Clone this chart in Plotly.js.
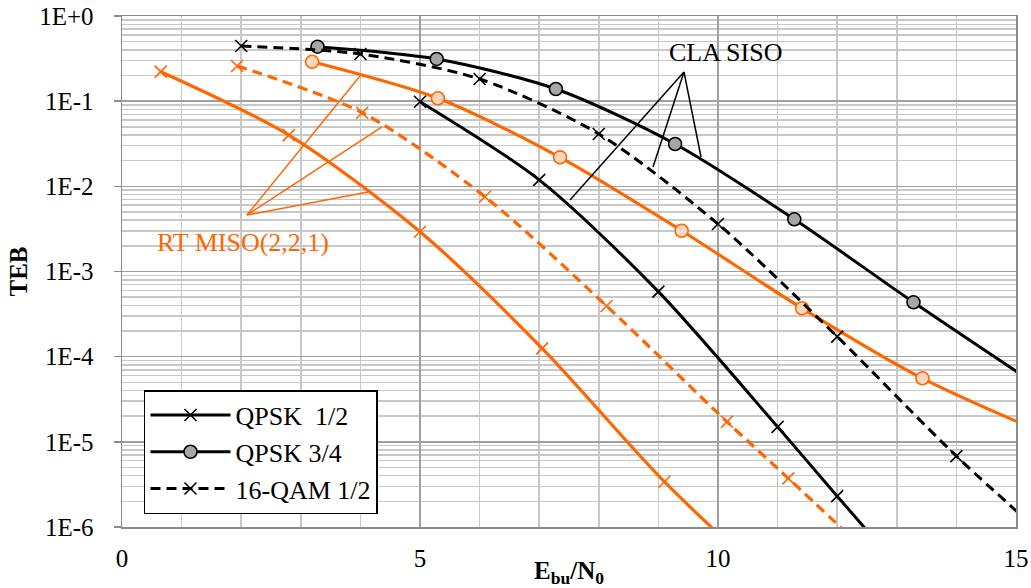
<!DOCTYPE html>
<html>
<head>
<meta charset="utf-8">
<script src="https://cdn.plot.ly/plotly-3.0.1.min.js"></script>
<style>html,body{margin:0;padding:0;background:#fff;}#chart{width:1031px;height:588px;}</style>
</head>
<body>
<div id="chart"></div>
<script>
// ---- Data ----
// CLA SISO (black)
const claQpsk12X = [5, 7, 9, 11, 12, 13];
const claQpsk12Y = [0.0985, 0.0119, 5.8e-4, 1.5e-5, 2.3e-6, 3.6e-7];
const claQpsk34X = [3.28, 5.28, 7.28, 9.28, 11.28, 13.28, 15.28];
const claQpsk34Y = [0.436, 0.313, 0.139, 0.0314, 0.0041, 4.35e-4, 5e-5];
const claQam12X = [2, 4, 6, 8, 10, 12, 14, 16];
const claQam12Y = [0.444, 0.358, 0.182, 0.0412, 0.00361, 1.72e-4, 6.8e-6, 3.7e-7];
// RT MISO(2,2,1) (orange)
const rtQpsk12X = [0.65, 2.8, 5.0, 7.05, 9.1, 11.2];
const rtQpsk12Y = [0.222, 0.040, 0.00293, 1.25e-4, 3.4e-6, 1.4e-7];
const rtQpsk34X = [3.19, 5.3, 7.35, 9.39, 11.41, 13.43, 15.45];
const rtQpsk34Y = [0.29, 0.108, 0.0219, 0.00301, 3.7e-4, 5.57e-5, 1.28e-5];
const rtQam12X = [1.93, 4.03, 6.09, 8.13, 10.15, 11.18, 12.2];
const rtQam12Y = [0.259, 0.0732, 0.00755, 3.94e-4, 1.72e-5, 3.73e-6, 8e-7];

const legendNames = ['QPSK\u00a0\u00a01/2', 'QPSK 3/4', '16-QAM 1/2'];
const yTickVals = [1e-6, 1e-5, 1e-4, 1e-3, 1e-2, 1e-1, 1];
const yTickText = ['1E-6', '1E-5', '1E-4', '1E-3', '1E-2', '1E-1', '1E+0'];
const xTickVals = [0, 5, 10, 15];
const xTickText = ['0', '5', '10', '15'];
const claLabel = 'CLA SISO';
const rtLabel = 'RT MISO(2,2,1)';

// ---- Styles ----
const BLACK = '#000000';
const ORANGE = '#ff6600';
const FONT = 'Liberation Serif, Times New Roman, serif';
const DASH = '10px,6px';

function xMarker(color) {
  return {symbol: 'x-thin', size: 12, color: color, line: {color: color, width: 1.6}};
}

const traces = [
  {x: rtQpsk12X, y: rtQpsk12Y, mode: 'lines+markers', showlegend: false,
   line: {color: ORANGE, width: 3.2, shape: 'spline', smoothing: 0.8}, marker: xMarker(ORANGE)},
  {x: rtQpsk34X, y: rtQpsk34Y, mode: 'lines+markers', showlegend: false,
   line: {color: ORANGE, width: 3.2, shape: 'spline', smoothing: 0.8},
   marker: {symbol: 'circle', size: 13, color: '#fdd6bf', line: {color: ORANGE, width: 1.6}}},
  {x: rtQam12X, y: rtQam12Y, mode: 'lines+markers', showlegend: false,
   line: {color: ORANGE, width: 3.2, dash: DASH, shape: 'spline', smoothing: 0.8}, marker: xMarker(ORANGE)},
  {x: claQpsk12X, y: claQpsk12Y, mode: 'lines+markers', name: legendNames[0], legendgroup: 'a',
   line: {color: BLACK, width: 3, shape: 'spline', smoothing: 0.8}, marker: xMarker(BLACK)},
  {x: claQpsk34X, y: claQpsk34Y, mode: 'lines+markers', name: legendNames[1], legendgroup: 'b',
   line: {color: BLACK, width: 3, shape: 'spline', smoothing: 0.8},
   marker: {symbol: 'circle', size: 13, color: '#a6a6a6', line: {color: BLACK, width: 1.6}}},
  {x: claQam12X, y: claQam12Y, mode: 'lines+markers', name: legendNames[2], legendgroup: 'c',
   line: {color: BLACK, width: 3, dash: DASH, shape: 'spline', smoothing: 0.8}, marker: xMarker(BLACK)}
];

// leader lines (paper coordinates)
function seg(x0, y0, x1, y1, color) {
  return {type: 'line', xref: 'paper', yref: 'paper', x0: x0, y0: y0, x1: x1, y1: y1,
          line: {color: color, width: 1.5}, layer: 'above'};
}
const shapes = [
  seg(0.6286, 0.8904, 0.5011, 0.6399, BLACK),
  seg(0.6286, 0.8904, 0.5940, 0.7045, BLACK),
  seg(0.6286, 0.8904, 0.6477, 0.7241, BLACK),
  seg(0.1398, 0.6106, 0.2662, 0.8826, ORANGE),
  seg(0.1398, 0.6106, 0.2908, 0.7828, ORANGE),
  seg(0.1398, 0.6106, 0.2752, 0.6556, ORANGE)
];

const layout = {
  width: 1031, height: 588,
  margin: {l: 122, r: 15, t: 16, b: 61},
  paper_bgcolor: '#ffffff', plot_bgcolor: '#ffffff',
  font: {family: FONT, size: 25, color: BLACK},
  showlegend: true,
  legend: {x: 0.0246, y: 0.268, xanchor: 'left', yanchor: 'top',
           bgcolor: '#ffffff', bordercolor: BLACK, borderwidth: 1.5,
           font: {family: FONT, size: 26, color: BLACK},
           itemwidth: 80, tracegroupgap: 0, traceorder: 'grouped'},
  xaxis: {range: [0, 15], tickmode: 'array', tickvals: xTickVals, ticktext: xTickText,
          showgrid: true, gridcolor: '#a0a0a0', gridwidth: 1.5,
          minor: {dtick: 1, showgrid: true, gridcolor: '#c8c8c8', gridwidth: 1.5},
          showline: true, linecolor: '#8c8c8c', linewidth: 1.5, mirror: true,
          ticks: '', ticklabelstandoff: 8, zeroline: false,
          tickfont: {family: FONT, size: 25, color: BLACK},
          title: {text: '<b>E<sub>bu</sub>/N<sub>0</sub></b>', font: {family: FONT, size: 25, color: BLACK}, standoff: 4}},
  yaxis: {type: 'log', range: [-6, 0], tickmode: 'array', tickvals: yTickVals, ticktext: yTickText,
          showgrid: true, gridcolor: '#a0a0a0', gridwidth: 1.5,
          minor: {dtick: 'D1', showgrid: true, gridcolor: '#c8c8c8', gridwidth: 1.5},
          showline: true, linecolor: '#8c8c8c', linewidth: 1.5, mirror: true,
          ticks: 'outside', ticklen: 7, tickcolor: '#8c8c8c', tickwidth: 1.5,
          ticklabelstandoff: 15, zeroline: false,
          tickfont: {family: FONT, size: 25, color: BLACK},
          title: {text: '<b>TEB</b>', font: {family: FONT, size: 25, color: BLACK}, standoff: 4}},
  shapes: shapes,
  annotations: [
    {xref: 'paper', yref: 'paper', x: 0.6745, y: 0.9295, xanchor: 'center', yanchor: 'middle',
     text: claLabel, showarrow: false, font: {family: FONT, size: 26, color: BLACK}},
    {xref: 'paper', yref: 'paper', x: 0.1357, y: 0.5558, xanchor: 'center', yanchor: 'middle',
     text: rtLabel, showarrow: false, font: {family: FONT, size: 26, color: ORANGE}}
  ]
};

Plotly.newPlot('chart', traces, layout, {displayModeBar: false, staticPlot: true});
</script>
</body>
</html>
